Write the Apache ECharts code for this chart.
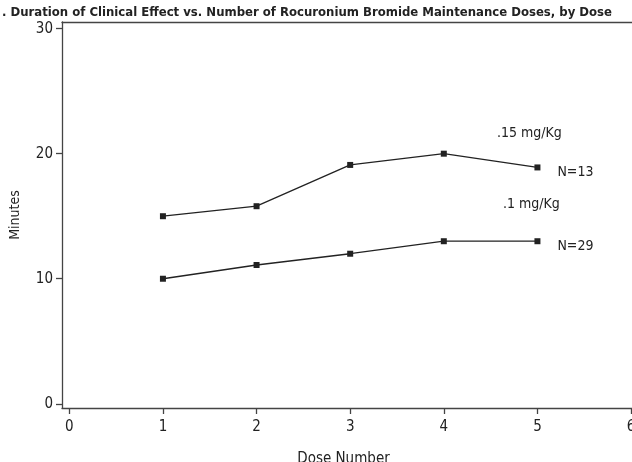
<!DOCTYPE html>
<html>
<head>
<meta charset="utf-8">
<script src="https://cdn.jsdelivr.net/npm/echarts@6/dist/echarts.min.js"></script>
<style>
html,body{margin:0;padding:0;background:#fff;}
#chart{width:632px;height:462px;}
</style>
</head>
<body>
<div id="chart"></div>
<script>
const doseNumbers = [1, 2, 3, 4, 5];
const dose015 = [15.0, 15.8, 19.1, 20.0, 18.9];
const dose010 = [10.0, 11.1, 12.0, 13.0, 13.0];
const xTicks = [0, 1, 2, 3, 4, 5, 6];
const yTicks = [0, 10, 20, 30];
const seriesNames = ['.15 mg/Kg', '.1 mg/Kg'];
const nLabels = ['N=13', 'N=29'];
const titleText = '. Duration of Clinical Effect vs. Number of Rocuronium Bromide Maintenance Doses, by Dose';

const FONT = "'Liberation Sans Narrow', 'DejaVu Sans Condensed', 'Arial Narrow', sans-serif";
const INK = '#222';
const AXIS = '#444';

function pairs(vals) { return doseNumbers.map((d, i) => [d, vals[i]]); }

function makeSeries(name, vals, nLabel, nameOffset) {
  const data = pairs(vals);
  const last = data.length - 1;
  data[last] = {
    value: data[last],
    label: {
      show: true, position: 'right', distance: 17, offset: [0, 5],
      formatter: nLabel, color: INK, fontFamily: FONT, fontSize: 14
    }
  };
  return {
    name: name,
    type: 'line',
    data: data,
    symbol: 'rect',
    symbolSize: 6,
    lineStyle: { color: INK, width: 1.3 },
    itemStyle: { color: INK },
    emphasis: { disabled: true },
    animation: false,
    markPoint: {
      symbol: 'rect', symbolSize: 0,
      data: [{ coord: [doseNumbers[last], vals[last]], value: name }],
      label: {
        show: true, position: 'inside', offset: nameOffset,
        formatter: name, color: INK, fontFamily: FONT, fontSize: 14
      }
    }
  };
}

const chart = echarts.init(document.getElementById('chart'), null, { renderer: 'canvas' });
chart.setOption({
  backgroundColor: '#fff',
  animation: false,
  title: {
    text: titleText, left: -3, top: 1,
    textStyle: { fontFamily: FONT, fontSize: 13, fontWeight: 'bold', color: INK }
  },
  grid: { left: 62, top: 22, right: 0, bottom: 54, containLabel: false, outerBoundsMode: 'none' },
  xAxis: [{
    type: 'value', min: -0.078, max: 6.01,
    name: 'Dose Number', nameLocation: 'middle', nameGap: 44,
    nameTextStyle: { fontFamily: FONT, fontSize: 15, color: INK, padding: [0, 7, 0, 0] },
    axisLine: { show: true, onZero: false, lineStyle: { color: AXIS, width: 1.3 } },
    axisTick: { show: true, length: 6, customValues: xTicks, lineStyle: { color: AXIS, width: 1.3 } },
    axisLabel: { customValues: xTicks, margin: 12, fontFamily: FONT, fontSize: 15, color: INK },
    splitLine: { show: false }
  }, {
    type: 'value', position: 'top', min: -0.078, max: 6.01,
    axisLine: { show: true, onZero: false, lineStyle: { color: AXIS, width: 1.3 } },
    axisTick: { show: false }, axisLabel: { show: false }, splitLine: { show: false }
  }],
  yAxis: {
    type: 'value', min: -0.336, max: 30.53,
    name: 'Minutes', nameLocation: 'middle', nameGap: 40,
    nameTextStyle: { fontFamily: FONT, fontSize: 14, color: INK },
    axisLine: { show: true, onZero: false, lineStyle: { color: AXIS, width: 1.3 } },
    axisTick: { show: true, length: 6, customValues: yTicks, lineStyle: { color: AXIS, width: 1.3 } },
    axisLabel: { customValues: yTicks, margin: 9, fontFamily: FONT, fontSize: 15, color: INK },
    splitLine: { show: false }
  },
  series: [
    makeSeries(seriesNames[0], dose015, nLabels[0], [-8, -34]),
    makeSeries(seriesNames[1], dose010, nLabels[1], [-6, -37])
  ]
});
</script>
</body>
</html>
